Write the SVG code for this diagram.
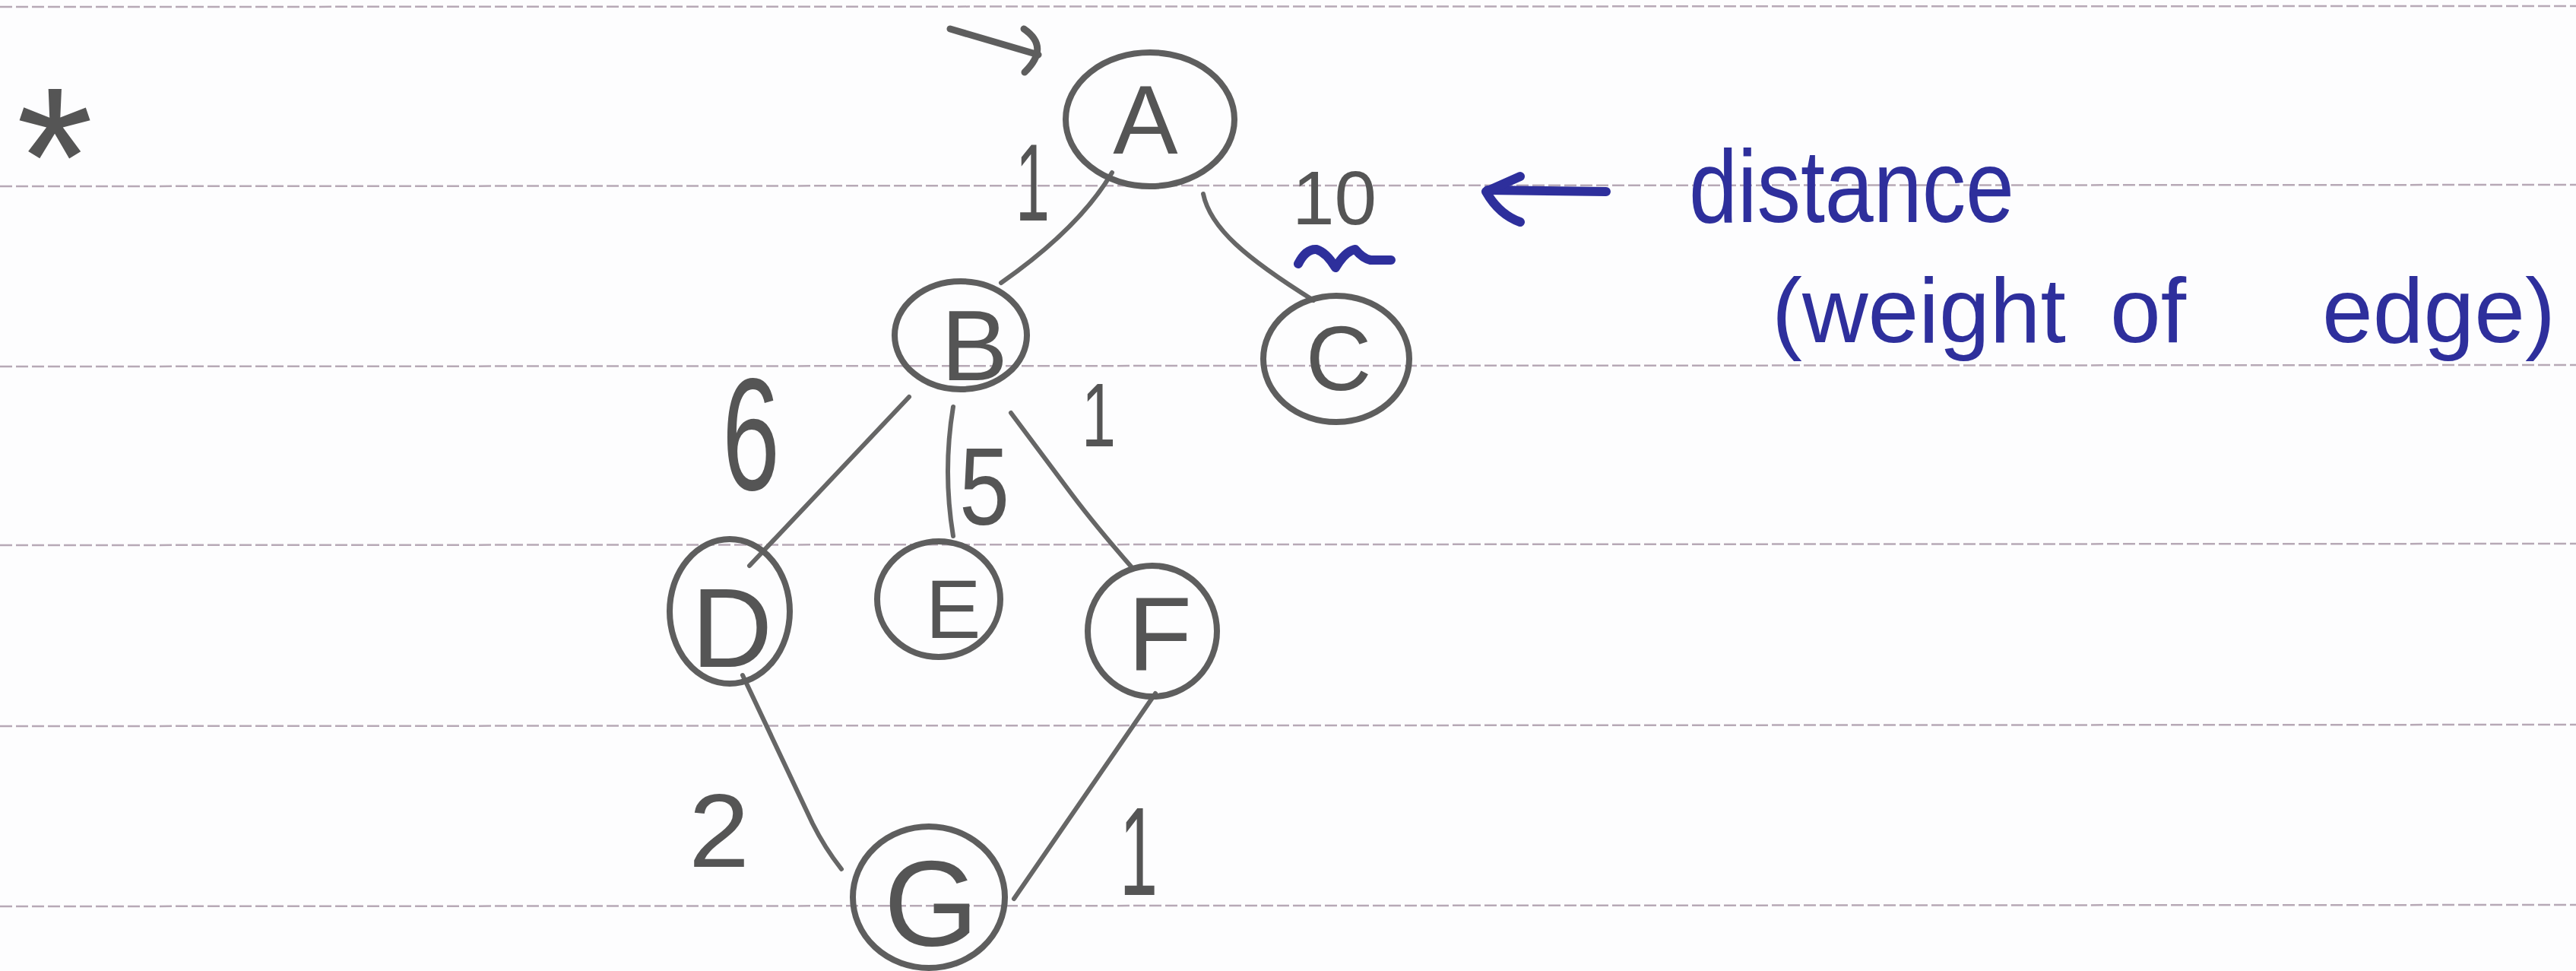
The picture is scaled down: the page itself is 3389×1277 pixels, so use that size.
<svg xmlns="http://www.w3.org/2000/svg" width="3389" height="1277" viewBox="0 0 3389 1277">
<style>
.paper{fill:#fdfdfe}
.rule{stroke:#b7a9b6;stroke-width:2.5;stroke-dasharray:16 5;fill:none}
.node{fill:none;stroke:#5e5e5e;stroke-width:8}
.edge{fill:none;stroke:#666;stroke-width:6;stroke-linecap:round;stroke-linejoin:round}
.pen{fill:none;stroke:#5e5e5e;stroke-width:9;stroke-linecap:round;stroke-linejoin:round}
.ink{fill:none;stroke:#2e2f9c;stroke-width:12;stroke-linecap:round;stroke-linejoin:round}
.lbl{font-family:"Liberation Sans",Arial,sans-serif;fill:#555;text-anchor:middle}
.num{font-family:"Liberation Sans",Arial,sans-serif;fill:#555}
.blue{font-family:"Liberation Sans",Arial,sans-serif;fill:#2e2f9c}
</style>
<rect class="paper" x="0" y="0" width="3389" height="1277"/>
<g id="rules">
<line class="rule" x1="0" y1="9" x2="3389" y2="8"/>
<line class="rule" x1="0" y1="245" x2="3389" y2="243"/>
<line class="rule" x1="0" y1="482" x2="3389" y2="480"/>
<line class="rule" x1="0" y1="717" x2="3389" y2="715"/>
<line class="rule" x1="0" y1="955" x2="3389" y2="953"/>
<line class="rule" x1="0" y1="1192" x2="3389" y2="1190"/>
</g>
<text class="lbl" x="72" y="296" font-size="260">*</text>
<g id="connectors">
<path class="pen" d="M1250,38 L1366,72"/>
<path class="pen" d="M1347,38 Q1382,62 1348,95"/>
<path id="edge-A-B" class="edge" d="M1463,227 Q1420,300 1317,372"/>
<path id="edge-A-C" class="edge" d="M1583,255 C1592,300 1640,340 1728,395"/>
<path id="edge-B-D" class="edge" d="M1196,522 L986,744"/>
<path id="edge-B-E" class="edge" d="M1254,535 Q1240,620 1254,705"/>
<path id="edge-B-F" class="edge" d="M1330,543 L1410,650 Q1440,690 1488,745"/>
<path id="edge-D-G" class="edge" d="M977,888 L1069,1083 Q1085,1115 1107,1143"/>
<path id="edge-F-G" class="edge" d="M1520,912 L1334,1182"/>
</g>
<g id="edge-labels">
<text class="num" x="1336" y="290" font-size="144" textLength="45" lengthAdjust="spacingAndGlyphs">1</text>
<text class="num" x="1700" y="295" font-size="100">10</text>
<text class="num" x="950" y="644" font-size="210" textLength="76" lengthAdjust="spacingAndGlyphs">6</text>
<text class="num" x="1262" y="690" font-size="144" textLength="66" lengthAdjust="spacingAndGlyphs">5</text>
<text class="num" x="1423" y="587" font-size="119" textLength="45" lengthAdjust="spacingAndGlyphs">1</text>
<text class="num" x="906" y="1140" font-size="137" textLength="80" lengthAdjust="spacingAndGlyphs">2</text>
<text class="num" x="1473" y="1177" font-size="165" textLength="50" lengthAdjust="spacingAndGlyphs">1</text>
</g>
<g id="node-A">
<ellipse class="node" cx="1513" cy="157" rx="111" ry="88"/>
<text class="lbl" x="1507" y="202" font-size="128">A</text>
</g>
<g id="node-B">
<ellipse class="node" cx="1264" cy="441" rx="87" ry="71"/>
<text class="lbl" x="1282" y="500" font-size="132">B</text>
</g>
<g id="node-C">
<ellipse class="node" cx="1758" cy="472" rx="96" ry="83"/>
<text class="lbl" x="1761" y="513" font-size="120">C</text>
</g>
<g id="node-D">
<ellipse class="node" cx="960" cy="804" rx="79" ry="95"/>
<text class="lbl" x="963" y="877" font-size="148">D</text>
</g>
<g id="node-E">
<ellipse class="node" cx="1235" cy="788" rx="81" ry="76"/>
<text class="lbl" x="1254" y="839" font-size="109">E</text>
</g>
<g id="node-F">
<ellipse class="node" cx="1516" cy="830" rx="85" ry="86"/>
<text class="lbl" x="1526" y="881" font-size="138">F</text>
</g>
<g id="node-G">
<ellipse class="node" cx="1222" cy="1180" rx="100" ry="93"/>
<text class="lbl" x="1225" y="1243" font-size="160">G</text>
</g>
<g id="annotation">
<path class="ink" d="M1708,347 Q1718,327 1732,328 Q1745,332 1757,352 Q1770,330 1783,328 Q1793,340 1803,342 L1830,342"/>
<path class="ink" d="M2113,252 L1957,250"/>
<path class="ink" d="M2000,232 L1955,252 Q1972,282 2000,292"/>
<text class="blue" x="2222" y="292" font-size="135" textLength="428" lengthAdjust="spacingAndGlyphs">distance</text>
<text class="blue" font-size="120" y="450"><tspan x="2331">(weight</tspan> <tspan x="2776">of</tspan> <tspan x="3055">edge)</tspan></text>
</g>
</svg>
